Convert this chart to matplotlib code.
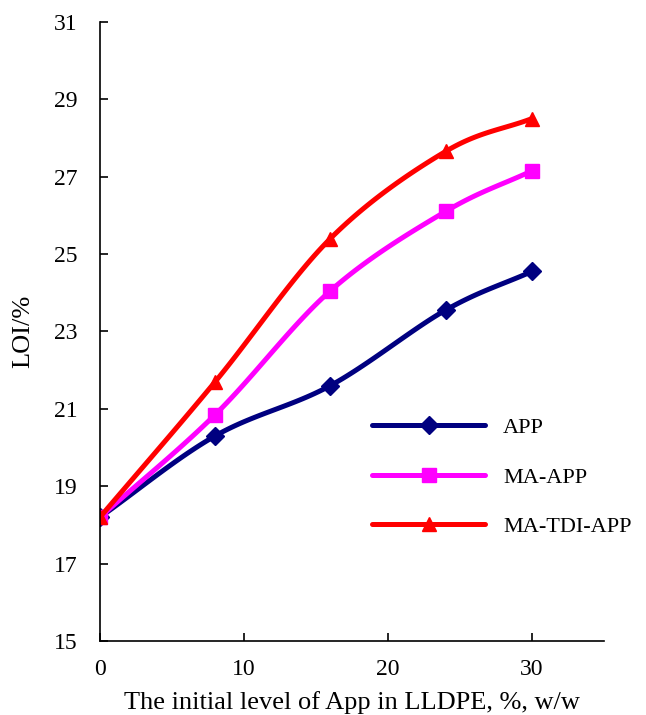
import numpy as np
import matplotlib.pyplot as plt

plt.rcParams['font.family'] = ['Liberation Serif', 'DejaVu Serif']

# App loading, % w/w
app_level = [0, 8, 16, 24, 30]

# LOI values
loi_app = [18.2, 20.3, 21.6, 23.55, 24.55]
loi_ma_app = [18.2, 20.85, 24.05, 26.1, 27.15]
loi_ma_tdi_app = [18.2, 21.7, 25.4, 27.65, 28.5]

series_names = ['APP', 'MA-APP', 'MA-TDI-APP']
colors = ['#000080', '#FF00FF', '#FF0000']
markers = ['D', 's', '^']


def smooth_curve(x, y, n=30):
    # Catmull-Rom smoothing, like the "smoothed line" option in Excel
    x = np.asarray(x, float)
    y = np.asarray(y, float)
    px = np.concatenate([[2 * x[0] - x[1]], x, [2 * x[-1] - x[-2]]])
    py = np.concatenate([[2 * y[0] - y[1]], y, [2 * y[-1] - y[-2]]])
    xs, ys = [], []
    t = np.linspace(0, 1, n)
    for i in range(1, len(px) - 2):
        for p, out in ((px, xs), (py, ys)):
            p0, p1, p2, p3 = p[i - 1], p[i], p[i + 1], p[i + 2]
            seg = 0.5 * ((2 * p1) + (-p0 + p2) * t
                         + (2 * p0 - 5 * p1 + 4 * p2 - p3) * t ** 2
                         + (-p0 + 3 * p1 - 3 * p2 + p3) * t ** 3)
            out.extend(seg if i == 1 else seg[1:])
    return np.array(xs), np.array(ys)


fig = plt.figure(figsize=(6.46, 7.15), dpi=100)
ax = fig.add_axes([0.1548, 0.1035, 0.7802, 0.866])

for vals, name, c, m in zip([loi_app, loi_ma_app, loi_ma_tdi_app], series_names, colors, markers):
    ms = 9 if m == 'D' else 10
    sx, sy = smooth_curve(app_level, vals)
    ax.plot(sx, sy, color=c, lw=3.6, solid_capstyle='round')
    ax.plot(app_level, vals, ls='none', marker=m, color=c, markersize=ms)
    # legend proxy
    ax.plot([], [], color=c, lw=3.6, marker=m, markersize=ms,
            solid_capstyle='round', label=name)

ax.set_xlim(0, 35)
ax.set_ylim(15, 31)
ax.set_xticks([0, 10, 20, 30])
ax.set_yticks(np.arange(15, 32, 2))
ax.spines['top'].set_visible(False)
ax.spines['right'].set_visible(False)
for s in ('left', 'bottom'):
    ax.spines[s].set_linewidth(1.2)
ax.tick_params(direction='in', length=6, width=1.2, labelsize=17)
ax.tick_params(axis='y', pad=16)
ax.tick_params(axis='x', pad=13)

ax.set_xlabel('The initial level of App in LLDPE, %, w/w', fontsize=19, labelpad=8)
ax.set_ylabel('LOI/%', fontsize=19, labelpad=14)

ax.legend(loc='upper left', bbox_to_anchor=(0.5, 0.393), frameon=False,
          fontsize=16, handlelength=5.1, handletextpad=0.8, labelspacing=1.3)

fig.savefig('out.png', dpi=100)
